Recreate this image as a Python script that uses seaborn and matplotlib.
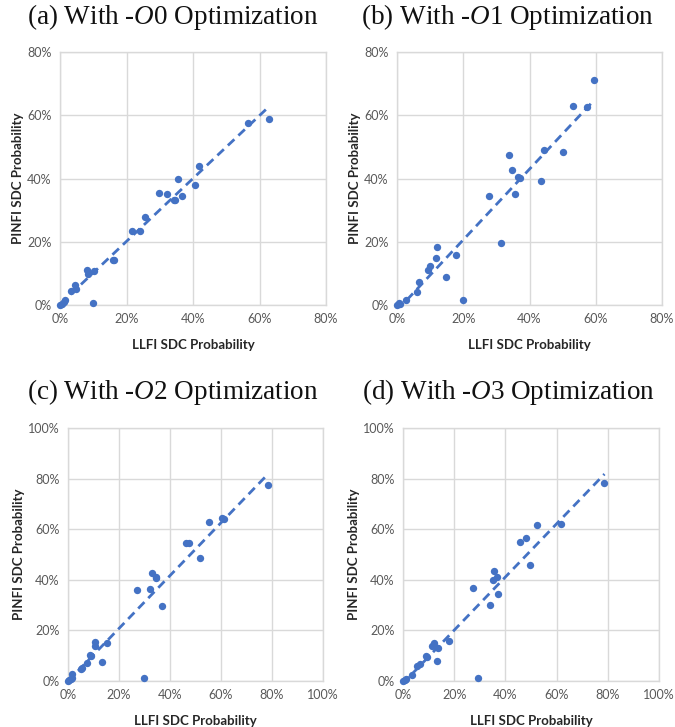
import matplotlib
matplotlib.use("Agg")
import matplotlib.pyplot as plt
import seaborn as sns
import numpy as np
from matplotlib.ticker import PercentFormatter, MultipleLocator

# ---- data (percent) ----
o0_llfi = [0.0, 0.5, 1.2, 1.6, 3.3, 4.5, 4.8, 8.2, 8.5, 10.2, 9.8, 16.0, 16.3, 21.7, 24.0,
           25.7, 29.7, 32.2, 34.2, 34.6, 35.5, 36.6, 40.6, 41.8, 56.6, 63.0]
o0_pinfi = [0.0, 0.4, 1.0, 1.7, 4.5, 6.4, 5.1, 11.0, 9.9, 10.6, 0.7, 14.3, 14.1, 23.3, 23.3,
            27.8, 35.4, 35.1, 33.3, 33.3, 40.0, 34.6, 37.8, 43.8, 57.7, 58.9]

o1_llfi = [0.0, 0.6, 1.0, 2.6, 5.9, 6.5, 9.4, 9.9, 11.7, 12.2, 14.9, 17.9, 20.0, 27.7,
           31.4, 33.9, 34.7, 35.5, 36.6, 37.2, 43.5, 44.5, 50.2, 53.2, 57.5, 59.5]
o1_pinfi = [0.0, 0.6, 0.4, 1.7, 4.2, 7.2, 11.0, 12.2, 15.0, 18.2, 8.9, 15.8, 1.5, 34.6,
            19.7, 47.4, 42.6, 35.0, 40.5, 40.3, 39.2, 49.1, 48.5, 63.0, 62.5, 71.1]

o2_llfi = [0.0, 0.5, 1.2, 1.4, 1.7, 5.1, 5.6, 7.6, 8.6, 9.0, 10.4, 10.7, 13.4, 15.1,
           27.2, 29.9, 32.1, 33.0, 34.5, 34.7, 36.9, 46.2, 47.3, 51.9, 55.3, 60.4, 61.0, 78.6]
o2_pinfi = [0.0, 0.4, 0.7, 1.1, 2.8, 4.9, 5.0, 7.0, 10.2, 9.9, 15.6, 14.0, 7.7, 14.9,
            35.8, 1.1, 36.4, 42.6, 40.6, 41.0, 29.7, 54.5, 54.6, 48.8, 62.8, 64.5, 64.1, 77.4]

o3_llfi = [0.0, 0.7, 1.3, 3.7, 5.5, 6.8, 9.1, 9.4, 11.2, 12.3, 13.3, 13.7, 18.1, 27.4,
           29.2, 34.0, 35.3, 35.7, 36.9, 37.3, 45.8, 48.0, 49.5, 52.4, 61.9, 78.7]
o3_pinfi = [0.0, 0.4, 0.8, 2.4, 5.9, 6.6, 10.0, 9.4, 13.9, 15.2, 8.0, 13.1, 15.8, 36.9,
            1.1, 30.1, 40.0, 43.3, 41.0, 34.3, 55.1, 56.5, 45.9, 61.7, 62.1, 78.2]

titles = [r"(a) With -$\mathit{O0}$ Optimization", r"(b) With -$\mathit{O1}$ Optimization",
          r"(c) With -$\mathit{O2}$ Optimization", r"(d) With -$\mathit{O3}$ Optimization"]
x_label = "LLFI SDC Probability"
y_label = "PINFI SDC Probability"
axis_max = [80, 80, 100, 100]

sns.set_theme(style="whitegrid")
plt.rcParams["font.family"] = ["Lato", "DejaVu Sans"]
plt.rcParams["mathtext.fontset"] = "custom"
plt.rcParams["mathtext.rm"] = "Liberation Serif"
plt.rcParams["mathtext.it"] = "Liberation Serif:italic"

blue = "#4472C4"
grid_c = "#d9d9d9"
tick_c = "#595959"

fig = plt.figure(figsize=(6.75, 7.27), dpi=100)
W, H = 675, 727

# axes boxes in pixels: (left, top, right, bottom)
boxes = [(60, 52, 326, 305), (397, 52, 662, 305),
         (68, 428, 323, 681), (403, 428, 659, 681)]
title_pos = [(173, 17), (508, 17), (173, 392), (509, 392)]
data = [(o0_llfi, o0_pinfi), (o1_llfi, o1_pinfi), (o2_llfi, o2_pinfi), (o3_llfi, o3_pinfi)]

for i in range(4):
    l, t, r, b = boxes[i]
    ax = fig.add_axes([l / W, 1 - b / H, (r - l) / W, (b - t) / H])
    xs, ys = data[i]
    sns.regplot(x=np.array(xs), y=np.array(ys), ax=ax, ci=None, color=blue,
                scatter_kws=dict(s=28, linewidths=0, alpha=1, clip_on=False, zorder=3),
                line_kws=dict(ls=(0, (3.2, 2.0)), lw=2.0, zorder=4))
    m = axis_max[i]
    ax.set_xlim(0, m)
    ax.set_ylim(0, m)
    ax.xaxis.set_major_locator(MultipleLocator(20))
    ax.yaxis.set_major_locator(MultipleLocator(20))
    ax.xaxis.set_major_formatter(PercentFormatter(decimals=0))
    ax.yaxis.set_major_formatter(PercentFormatter(decimals=0))
    ax.grid(True, color=grid_c, lw=1.0)
    for s in ax.spines.values():
        s.set_color(grid_c)
        s.set_linewidth(1.0)
    ax.tick_params(axis="both", length=0, labelsize=9, colors=tick_c, pad=6)
    ax.set_xlabel(x_label, fontsize=9.5, fontweight="bold", color="#262626", labelpad=10)
    ax.set_ylabel(y_label, fontsize=9.5, fontweight="bold", color="#262626", labelpad=2)
    tx, ty = title_pos[i]
    fig.text(tx / W, 1 - ty / H, titles[i], ha="center", va="center",
             fontsize=19.5, family="Liberation Serif", color="#111111")

fig.savefig("out.png", dpi=100)
